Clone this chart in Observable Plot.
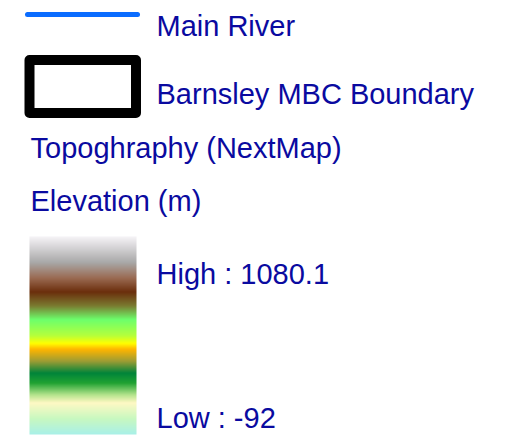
<!DOCTYPE html>
<html>
<head>
<meta charset="utf-8">
<script src="https://cdn.jsdelivr.net/npm/d3@7"></script>
<script src="https://cdn.jsdelivr.net/npm/@observablehq/plot@0.6"></script>
<style>
  html, body { margin: 0; padding: 0; background: #fff; }
  #chart svg { display: block; }
</style>
</head>
<body>
<div id="chart"></div>
<script>
// ---- data ----
const symbolLabels = ["Main River", "Barnsley MBC Boundary"];
const headings = ["Topoghraphy (NextMap)", "Elevation (m)"];
const elevationHigh = 1080.1;
const elevationLow = -92;
// colour ramp, fraction from top (high) to bottom (low)
const rampStops  = [0.00, 0.13, 0.21, 0.28, 0.35, 0.42, 0.50, 0.54, 0.57, 0.63, 0.69, 0.74, 0.80, 0.84, 0.92, 1.00];
const rampColors = ["#f6f4f8", "#a9a9a9", "#9a6a52", "#6b2e0c", "#7a7a30", "#6cff6c", "#b4ff3c", "#ffff00", "#ffb400", "#9c9c34", "#00843a", "#20a232", "#b4e48c", "#fff8c4", "#c8f8c0", "#a8f0e8"];

// ---- layout ----
const W = 522, H = 437;
const font = "Liberation Sans, Arial, Helvetica, sans-serif";
const textColor = "#0a0aa0";
const L = {
  symX1: 27, symX2: 137, riverY: 14,
  boxX1: 29.5, boxX2: 136, boxY1: 60, boxY2: 113,
  labelX: 156, headX: 30,
  baselines: [35, 103, 157, 210],
  rampX1: 29, rampX2: 136, rampY1: 236, rampY2: 434,
  highY: 283, lowY: 427
};

const textRows = [
  {x: L.labelX, y: L.baselines[0], t: symbolLabels[0]},
  {x: L.labelX, y: L.baselines[1], t: symbolLabels[1]},
  {x: L.headX,  y: L.baselines[2], t: headings[0]},
  {x: L.headX,  y: L.baselines[3], t: headings[1]},
  {x: L.labelX, y: L.highY, t: `High : ${elevationHigh}`},
  {x: L.labelX, y: L.lowY,  t: `Low : ${elevationLow}`}
];

const plot = Plot.plot({
  width: W, height: H,
  margin: 0,
  x: {domain: [0, W], range: [0, W], axis: null},
  y: {domain: [0, H], range: [0, H], axis: null},
  color: {type: "linear", domain: rampStops, range: rampColors, interpolate: "rgb"},
  style: {background: "#fff"},
  marks: [
    Plot.raster({
      x1: L.rampX1, x2: L.rampX2, y1: L.rampY1, y2: L.rampY2,
      width: 1, height: Math.round(L.rampY2 - L.rampY1),
      fill: (x, y) => (y - L.rampY1) / (L.rampY2 - L.rampY1),
      imageRendering: "auto"
    }),
    Plot.line([{x: L.symX1, y: L.riverY}, {x: L.symX2, y: L.riverY}], {
      x: "x", y: "y", stroke: "#0a6cff", strokeWidth: 5, strokeLinecap: "round"
    }),
    Plot.rect([{x1: L.boxX1, x2: L.boxX2, y1: L.boxY1, y2: L.boxY2}], {
      x1: "x1", x2: "x2", y1: "y1", y2: "y2",
      fill: "#fff", stroke: "#000", strokeWidth: 10, strokeLinejoin: "round"
    }),
    Plot.text(textRows, {
      x: "x", y: "y", text: "t", textAnchor: "start", lineAnchor: "bottom",
      fontSize: 29, fontFamily: font, fill: textColor
    })
  ]
});
document.getElementById("chart").appendChild(plot);
</script>
</body>
</html>
